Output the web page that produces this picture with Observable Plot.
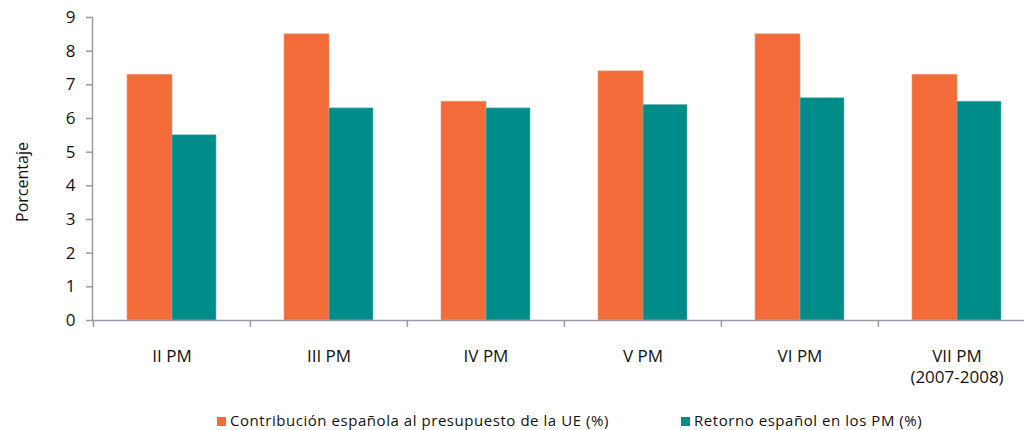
<!DOCTYPE html>
<html>
<head>
<meta charset="utf-8">
<script src="https://cdn.jsdelivr.net/npm/d3@7"></script>
<script src="https://cdn.jsdelivr.net/npm/@observablehq/plot@0.6"></script>
<style>
  html, body { margin: 0; padding: 0; background: #fff; overflow: hidden; }
  #wrap { position: relative; width: 1024px; height: 430px; }
  #legend { position: absolute; top: 410px; left: 0; width: 1024px; font-family: "Open Sans", sans-serif; font-size: 15px; letter-spacing: 0.55px; color: #111; }
  .item { position: absolute; top: 0; white-space: nowrap; line-height: 20px; }
  .sw { display: inline-block; width: 9px; height: 9px; margin-right: 4px; vertical-align: 0px; }
</style>
</head>
<body>
<div id="wrap">
  <div id="chart"></div>
  <div id="legend"></div>
</div>
<script>
const categories = ["II PM", "III PM", "IV PM", "V PM", "VI PM", "VII PM\n(2007-2008)"];
const contribucion = [7.3, 8.5, 6.5, 7.4, 8.5, 7.3];
const retorno = [5.5, 6.3, 6.3, 6.4, 6.6, 6.5];
const seriesNames = ["Contribución española al presupuesto de la UE (%)", "Retorno español en los PM (%)"];
const seriesColors = ["#F26B38", "#008C89"];
const yTicks = [0, 1, 2, 3, 4, 5, 6, 7, 8, 9];

const rowsA = categories.map((c, i) => ({cat: c, value: contribucion[i]}));
const rowsB = categories.map((c, i) => ({cat: c, value: retorno[i]}));

const grey = "#9a9aa2";

const chart = Plot.plot({
  width: 1024,
  height: 395,
  marginTop: 17,
  marginBottom: 75,
  marginLeft: 92,
  marginRight: 0,
  style: {fontFamily: "Open Sans, sans-serif", color: "#111", background: "#fff", maxWidth: "none"},
  x: {domain: categories, range: [92, 1035], padding: 0, label: null},
  y: {domain: [0, 9], label: null},
  marks: [
    Plot.barY(rowsA, {x: "cat", y: "value", fill: seriesColors[0], stroke: "#F59A78", strokeWidth: 0.6, insetLeft: 34, insetRight: 78}),
    Plot.barY(rowsB, {x: "cat", y: "value", fill: seriesColors[1], stroke: "#5FB5B3", strokeWidth: 0.6, insetLeft: 79, insetRight: 34}),
    Plot.frame({anchor: "left", stroke: grey, strokeWidth: 1.5}),
    Plot.ruleY([0], {stroke: grey, strokeWidth: 1.5}),
    Plot.ruleX(categories, {x: d => d, dx: -78.6, y1: 0, y2: 0, insetBottom: -7, stroke: grey, strokeWidth: 1.5}),
    Plot.axisY({ticks: yTicks, tickSize: 6, tickPadding: 11, fontSize: 17, stroke: grey, strokeWidth: 1.5, label: null, tickFormat: d => String(d)}),
    Plot.axisX({tickSize: 0, tickPadding: 26, fontSize: 17, lineHeight: 1.25, label: null}),
    Plot.text(["Porcentaje"], {frameAnchor: "left", textAnchor: "middle", rotate: -90, dx: -70, dy: 13, fontSize: 16, fill: "#111"})
  ]
});
document.getElementById("chart").appendChild(chart);

const legend = document.getElementById("legend");
const lefts = [217, 681];
seriesNames.forEach((name, i) => {
  const item = document.createElement("div");
  item.className = "item";
  item.style.left = lefts[i] + "px";
  const sw = document.createElement("span");
  sw.className = "sw";
  sw.style.background = seriesColors[i];
  item.appendChild(sw);
  item.appendChild(document.createTextNode(name));
  legend.appendChild(item);
});
</script>
</body>
</html>
